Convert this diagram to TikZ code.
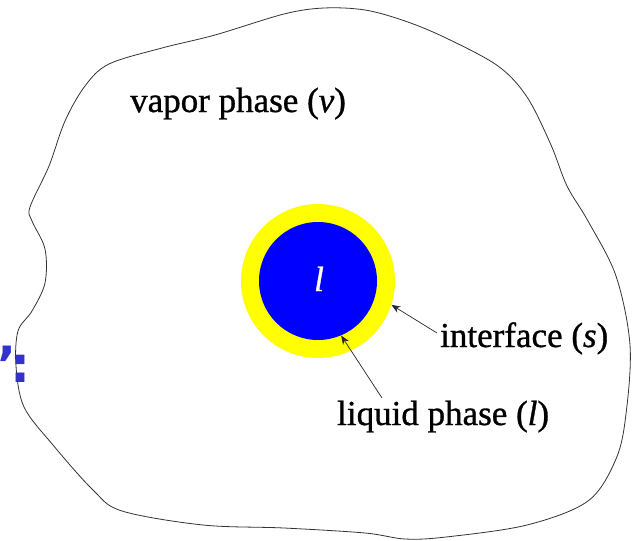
\documentclass[tikz,border=0pt]{standalone}
\usepackage{fontspec}
\setmainfont{Liberation Serif}[FakeBold=0.9]
\newfontfamily\textfnt{Liberation Serif}[FakeBold=0.9]
\newfontfamily\markfont{DejaVu Sans}
\usetikzlibrary{arrows.meta}
\definecolor{markblue}{RGB}{51,51,204}
\definecolor{ringyellow}{RGB}{255,255,0}
\definecolor{coreblue}{RGB}{0,0,255}
\tikzset{
  lbl/.style={inner sep=0pt, font=\textfnt\fontsize{35}{40}\selectfont},
  ptr/.style={-{Stealth[length=9pt,width=7pt,inset=3pt]}, line width=0.7pt, black!85},
}
\begin{document}
\begin{tikzpicture}[x=1pt,y=-1pt]
\useasboundingbox (0,0) rectangle (635,541);
% blob outline
\draw[line width=0.8pt, black!80] plot[smooth cycle, tension=0.55] coordinates {
(324,8) (365,10) (405,21) (446,38) (498,66) (527,97) (551,145) (567,186) (588,221) (616,276) (630,345) (626,414) (616,459) (588,501) (527,525) (446,537) (405,539) (365,533) (284,528) (203,525) (122,511) (93,490) (53,445) (24,407) (16,366) (18,331) (32,311) (45,283) (45,249) (32,221) (30,207) (49,166) (65,121) (85,86) (109,64) (162,48) (215,35) (284,14)};
% droplet
\node[circle, fill=ringyellow, minimum size=154pt, inner sep=0pt] (ring) at (318,281) {};
\node[circle, fill=coreblue, minimum size=118pt, inner sep=0pt] (core) at (318,281) {};
\node[lbl, text=white, anchor=base] (lsym) at (319,291) {\itshape l};
% labels
\node[lbl, anchor=base west] (vapor) at (130,112) {vapor phase (\textit{v})};
\node[lbl, anchor=base west] (iface) at (440,347) {interface (\textit{s})};
\node[lbl, anchor=base west] (liquid) at (337,425) {liquid phase (\textit{l})};
% arrows
\coordinate (itail) at (437,333);
\coordinate (ltail) at (382,398);
\draw[ptr] (itail) -- (ring.-18);
\draw[ptr] (ltail) -- (core.-67);
% cut-off blue marks
\node[inner sep=0pt, anchor=base east, text=markblue, font=\markfont\bfseries\fontsize{50}{54}\selectfont] (marks) at (31,382) {’\kern-6pt:};
\end{tikzpicture}
\end{document}
